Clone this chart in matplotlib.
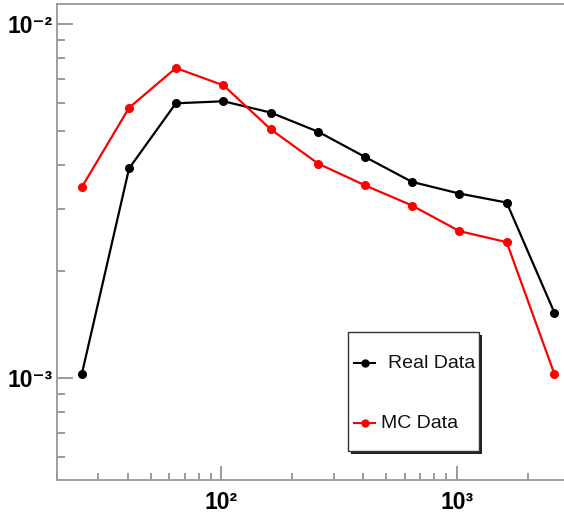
import matplotlib
matplotlib.use("Agg")
import matplotlib.pyplot as plt
from matplotlib.ticker import LogLocator, NullFormatter
from matplotlib.patches import Rectangle
from matplotlib.lines import Line2D

# Данные
energy = [25.5, 40.5, 64, 102, 162, 258, 408, 646, 1025, 1630, 2600]
real_data = [1.026e-3, 3.91e-3, 5.97e-3, 6.05e-3, 5.62e-3, 4.96e-3,
             4.21e-3, 3.58e-3, 3.32e-3, 3.13e-3, 1.53e-3]
mc_data = [3.46e-3, 5.80e-3, 7.51e-3, 6.71e-3, 5.04e-3, 4.03e-3,
           3.50e-3, 3.07e-3, 2.60e-3, 2.42e-3, 1.026e-3]

x_ticks = [100, 1000]
x_labels = ['10²', '10³']
y_ticks = [1e-3, 1e-2]
y_labels = ['10⁻³', '10⁻²']
legend_names = ['Real Data', 'MC Data']

plt.rcParams['font.family'] = ['Liberation Sans', 'DejaVu Sans']

W, H = 564, 517
fig = plt.figure(figsize=(W / 100, H / 100), dpi=100)
fig.patch.set_facecolor('white')


def px(x, y):
    # пиксели картинки -> доли фигуры
    return x / W, 1 - y / H


ax = fig.add_axes([57 / W, 37 / H, 512 / W, 476 / H])
ax.set_xscale('log')
ax.set_yscale('log')

ax.plot(energy, real_data, color='black', lw=1.6, marker='o', ms=5.5, zorder=3)
ax.plot(energy, mc_data, color='#ff0000', lw=1.6, marker='o', ms=5.5, zorder=3)

ax.set_xlim(20, 3000)
ax.set_ylim(5.15e-4, 1.139e-2)

# Оси в стиле ROOT
ax.set_xticks(x_ticks, labels=x_labels, fontsize=16.5, fontweight='bold')
ax.set_yticks(y_ticks, labels=y_labels, fontsize=16.5, fontweight='bold')
ax.xaxis.set_minor_locator(LogLocator(base=10, subs=range(2, 10), numticks=20))
ax.xaxis.set_minor_formatter(NullFormatter())
ax.yaxis.set_minor_locator(LogLocator(base=10, subs=range(2, 10), numticks=20))
ax.yaxis.set_minor_formatter(NullFormatter())

ax.tick_params(axis='x', which='major', direction='in', length=10, width=1.2,
               color='#8a8a8a', pad=8)
ax.tick_params(axis='x', which='minor', direction='in', length=5, width=1.2,
               color='#8a8a8a')
ax.tick_params(axis='y', which='major', direction='in', length=11.5, width=1.2,
               color='#8a8a8a', pad=3.5)
ax.tick_params(axis='y', which='minor', direction='in', length=5.8, width=1.2,
               color='#8a8a8a')

for side in ['left', 'bottom', 'top', 'right']:
    ax.spines[side].set_color('#999999')
    ax.spines[side].set_linewidth(1.3)

# Легенда рисуется вручную, как в ROOT
x0, y0 = px(348, 451)
x1, y1 = px(479, 331.7)
sx, sy = 3 / W, 3 / H
fig.add_artist(Rectangle((x0 + sx, y0 - sy), x1 - x0, y1 - y0, transform=fig.transFigure,
                         facecolor='#222222', edgecolor='none', zorder=5))
fig.add_artist(Rectangle((x0, y0), x1 - x0, y1 - y0, transform=fig.transFigure,
                         facecolor='white', edgecolor='#333333', lw=1.0, zorder=6))

entries = [(legend_names[0], 'black', 363, 388), (legend_names[1], '#ff0000', 423, 381)]
for name, col, ypix, xtext in entries:
    lx0, ly = px(354, ypix)
    lx1, _ = px(375, ypix)
    fig.add_artist(Line2D([lx0, lx1], [ly, ly], transform=fig.transFigure,
                          color=col, lw=1.5, zorder=7))
    mx, _ = px(364.5, ypix)
    fig.add_artist(Line2D([mx], [ly], transform=fig.transFigure, color=col,
                          marker='o', ms=5, zorder=7))
    tx, ty = px(xtext, ypix)
    fig.text(tx, ty, name, fontsize=14, va='center', ha='left', color='#111111',
             zorder=8)

fig.savefig('out.png', dpi=100)
